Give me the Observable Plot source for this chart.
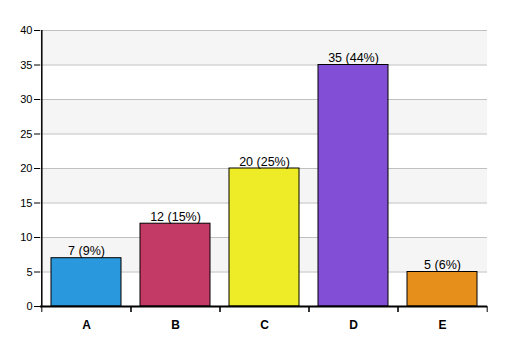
<!DOCTYPE html>
<html>
<head>
<meta charset="utf-8">
<script src="https://cdn.jsdelivr.net/npm/d3@7"></script>
<script src="https://cdn.jsdelivr.net/npm/@observablehq/plot@0.6"></script>
<style>
  html, body { margin: 0; padding: 0; background: #fff; }
  svg { display: block; }
</style>
</head>
<body>
<div id="chart"></div>
<script>
const categories = ["A", "B", "C", "D", "E"];
const values = [7, 12, 20, 35, 5];
const colors = ["#2a98dc", "#c43a66", "#eeec27", "#824ed6", "#e78f1b"];
const yTicks = [0, 5, 10, 15, 20, 25, 30, 35, 40];

const total = d3.sum(values);
const data = categories.map((c, i) => ({
  cat: c,
  value: values[i],
  label: `${values[i]} (${Math.round(values[i] / total * 100)}%)`
}));
const bands = yTicks.slice(1).filter((t, i) => i % 2 === 0).map(t => ({y1: t, y2: t + 5}));

const W = 507, H = 356, mL = 40, mR = 20, mT = 30, mB = 50;
const step = (W - mL - mR) / categories.length;
const padIn = 0.217;

const chart = Plot.plot({
  width: W,
  height: H,
  marginLeft: mL,
  marginRight: mR,
  marginTop: mT,
  marginBottom: mB,
  style: {fontFamily: "Liberation Sans, Arial, sans-serif", fontSize: "11px", color: "#000", background: "#fff"},
  x: {domain: categories, paddingInner: padIn, paddingOuter: padIn / 2, label: null},
  y: {domain: [0, 40], label: null},
  color: {domain: categories, range: colors},
  marks: [
    Plot.rectY(bands, {y1: "y1", y2: "y2", fill: "#f5f5f5"}),
    Plot.ruleY(yTicks.filter(t => t > 0), {stroke: "#c0c0c0", strokeWidth: 1}),
    Plot.barY(data, {x: "cat", y: "value", fill: "cat", stroke: "#000", strokeWidth: 1}),
    Plot.text(data, {x: "cat", y: "value", text: "label", dy: -7, fontSize: 12.5, fill: "#000"}),
    Plot.axisY(yTicks, {tickSize: 6, tickPadding: 2, fontSize: 11, stroke: "#000"}),
    Plot.axisX({tickSize: 0, tickPadding: 14, fontSize: 12, fontWeight: "bold"}),
    Plot.ruleX(categories, {x: d => d, y1: 0, y2: 0, dx: -step / 2, insetBottom: -6, stroke: "#000", strokeWidth: 1}),
    Plot.ruleX(categories, {x: d => d, y1: 0, y2: 0, dx: step / 2, insetBottom: -6, stroke: "#000", strokeWidth: 1}),
    Plot.ruleX([0], {x: () => categories[0], dx: -step / 2, y1: 0, y2: 40, stroke: "#000", strokeWidth: 1.5}),
    Plot.ruleY([0], {stroke: "#000", strokeWidth: 2})
  ]
});
document.getElementById("chart").appendChild(chart);
</script>
</body>
</html>
